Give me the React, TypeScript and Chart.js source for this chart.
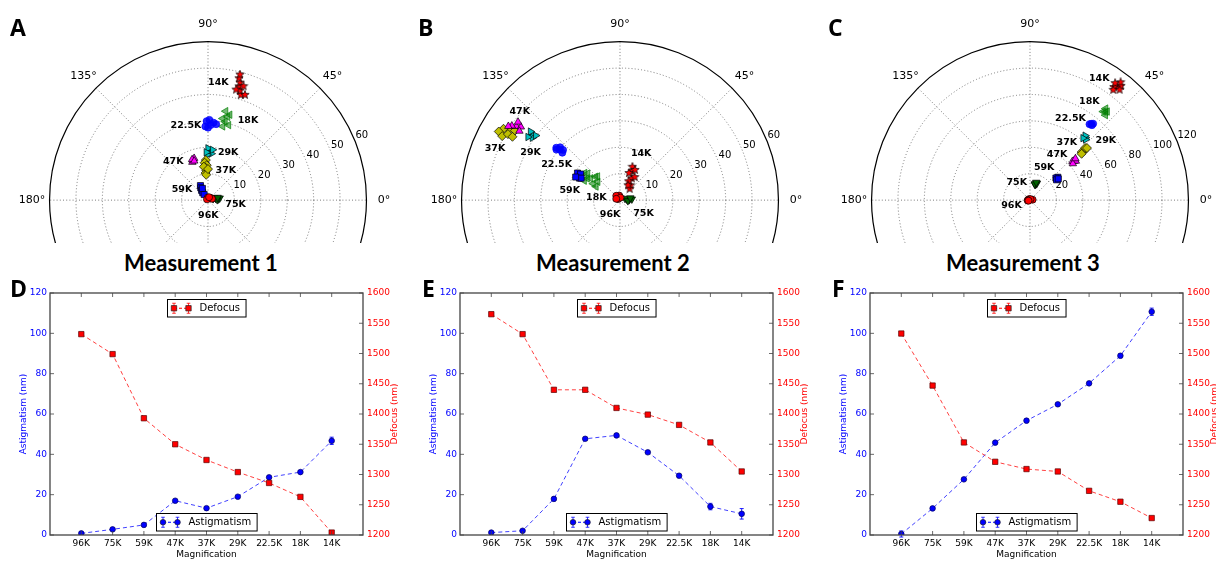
import React, { useEffect, useRef } from 'react';
import { Chart, registerables } from 'chart.js';

Chart.register(...registerables);

// ---------------- Categories ----------------
const MAGNIFICATIONS = ['96K', '75K', '59K', '47K', '37K', '29K', '22.5K', '18K', '14K'];

// ---------------- Line charts (D, E, F) ----------------
const astigmatism1 = [0.8, 2.8, 5.0, 17.0, 13.3, 19.0, 28.6, 31.2, 46.7];
const astigmatismErr1 = [0.4, 0.4, 0.4, 0.6, 0.7, 0.5, 0.6, 0.7, 1.8];
const defocus1 = [1532, 1499, 1393, 1350, 1324, 1304, 1286, 1263, 1204];
const defocusErr1 = [2, 2, 2, 2, 2, 2, 2, 2, 3];

const astigmatism2 = [1.2, 2.1, 17.9, 47.7, 49.4, 41.0, 29.4, 14.1, 10.5];
const astigmatismErr2 = [0.4, 0.5, 0.8, 0.6, 0.6, 0.6, 0.8, 1.6, 2.6];
const defocus2 = [1565, 1532, 1440, 1440, 1410, 1399, 1382, 1353, 1305];
const defocusErr2 = [2, 2, 2, 2, 2, 2, 2, 2, 2];

const astigmatism3 = [0.5, 13.2, 27.6, 45.8, 56.7, 64.8, 75.2, 88.9, 110.7];
const astigmatismErr3 = [1.5, 0.6, 0.6, 0.6, 0.8, 0.6, 0.7, 1.0, 1.8];
const defocus3 = [1533, 1447, 1353, 1321, 1309, 1305, 1273, 1255, 1228];
const defocusErr3 = [2, 2, 2, 2, 2, 2, 2, 2, 2];

const ASTIG_TICKS = { min: 0, max: 120, step: 20 };
const DEFOCUS_TICKS = { min: 1200, max: 1600, step: 50 };

// ---------------- Polar charts (A, B, C) : [radius (nm), angle (deg)] ----------------
const polarRTicks1 = [10, 20, 30, 40, 50, 60];
const polarRTicks2 = [10, 20, 30, 40, 50, 60];
const polarRTicks3 = [20, 40, 60, 80, 100, 120];
const POLAR_ANGLE_GRID = [0, 45, 90, 135, 180, 225, 270, 315];
const POLAR_ANGLE_LABELS = ['0°', '45°', '90°', '135°', '180°'];
const POLAR_ANGLE_LABEL_VALUES = [0, 45, 90, 135, 180];

const clusters1 = [
  [[0.8, 60], [1.4, 35], [1.0, 95], [1.6, 20], [0.5, 140], [1.2, 70]],
  [[3, 12], [4, 6], [2.5, 22], [4.5, 10], [3.5, 2], [2, 15], [3.8, 16]],
  [[6.3, 117], [5.5, 120], [4.5, 123], [3.5, 125], [2.6, 124], [5, 115]],
  [[16.4, 110], [17, 108], [15.8, 112], [16.8, 111], [16, 109]],
  [[15.5, 93], [14.5, 95], [13.5, 92], [12.5, 94], [11.5, 93], [10.5, 95], [9.8, 94], [13, 97], [12, 90]],
  [[19, 88], [18, 86], [20, 90], [17.5, 91], [19.5, 85], [18.5, 92]],
  [[29, 88], [30, 86], [28, 90], [31, 89], [29.5, 84], [28.5, 92], [30.5, 91]],
  [[31, 78], [33, 77], [35, 79], [30, 75], [32, 80], [29, 79], [34, 76]],
  [[42.5, 73], [44, 74], [45.5, 75], [47, 75], [48.5, 76], [50, 76], [46, 73], [44, 76], [43, 71]],
];
const clusters2 = [
  [[1.2, 120], [1.8, 100], [0.8, 150], [2.2, 130], [1, 80], [1.5, 160]],
  [[2.6, 8], [3.5, 2], [4.5, 5], [2, 18], [3, -5], [4, 12]],
  [[18.4, 149], [17.5, 151], [19.2, 147], [18, 146], [17, 150], [19, 152]],
  [[48.5, 144], [47, 143], [50, 145], [49, 142], [46.5, 145], [51, 146]],
  [[50, 147], [52, 148], [53, 150], [48, 146], [51, 151], [49.5, 149], [47.5, 149]],
  [[42, 143], [41, 144], [43, 142], [40.5, 142], [42.5, 145]],
  [[30, 139.5], [29, 138], [31, 141], [28.5, 140], [30.5, 138], [31.5, 140]],
  [[14, 143], [12, 148], [16, 140], [11, 140], [15, 146], [13, 136], [17, 142], [10.5, 150], [12.5, 133], [15.5, 151]],
  [[9.5, 62], [12, 68], [13.7, 70], [7, 55], [5.7, 50], [10.5, 58], [8, 66], [11, 72], [6.5, 62], [13, 64]],
];
const clusters3 = [
  [[1.5, 170], [1, 120], [2, 10], [0.8, 60], [1.8, 190], [1.2, 200]],
  [[13.3, 70], [12.5, 72], [14, 68], [13, 74], [14.5, 71]],
  [[26.7, 39], [27.5, 40], [26, 41], [25.5, 38], [27, 37.5]],
  [[45, 42], [44, 43], [46, 41], [43, 41], [47, 43]],
  [[56, 43], [54, 43.5], [58, 44], [53, 42.5], [59, 43]],
  [[64, 49], [63, 48], [65, 50], [62.5, 50]],
  [[75, 51.8], [74, 52.5], [76, 51], [74.5, 51]],
  [[89, 50], [88, 51], [90, 49.5], [87, 49], [91, 51]],
  [[110, 53], [108, 54], [112, 52], [106, 53.5], [114, 53], [111, 54.5], [109, 51.5]],
];

// label placement (pixel offsets from each cluster's centre)
const labelOffsets1 = [[-1, 17], [19, 6], [-20, 0], [-20, 1], [20, 3], [19, 1], [-24, 2], [22, 1], [-22, -4]];
const labelOffsets2 = [[-8, 17], [15, 14], [-9, 15], [4, -15], [-12, 16], [-1, 17], [-3, 15], [5, 19], [10, -24]];
const labelOffsets3 = [[-18, 6], [-19, -1], [-13, -11], [-17, -7], [-17, -8], [21, 3], [-21, -6], [-16, -10], [-18, -8]];

// marker styles per magnification
const MARKER_STYLES = ['circle', 'triangle', 'rect', 'triangle', 'rectRot', 'triangle', 'circle', 'triangle', 'star'];
const MARKER_ROTATIONS = [0, 180, 0, 0, 0, 90, 0, 270, 0];
const MARKER_RADII = [3.5, 4.3, 4.3, 4.3, 4.5, 4.3, 3.5, 4.3, 5];
const MARKER_FILLS = ['#ff0000', '#006400', '#0000ff', '#ff00ff', '#bfbf00', '#00bfbf', 'rgba(0,0,255,0.85)', 'rgba(0,128,0,0.55)', '#ff0000'];
const MARKER_EDGES = ['#000', '#000', '#000', '#000', '#000', '#000', '#0000ff', '#008000', '#000'];

const FONT = "'DejaVu Sans', sans-serif";

// layout constants
const POLAR_W = 410;
const POLAR_H = 243;
const POLAR_CX = 205;
const POLAR_CY = 204;
const POLAR_R = 163;
const POLAR_CENTERS = [208, 620, 1030];
const LINE_LEFTS = [0, 410, 820];
const LINE_TOP = 280;
const LINE_W = 405;
const LINE_H = 281;

function makeStar(size) {
  const c = document.createElement('canvas');
  c.width = size;
  c.height = size;
  const g = c.getContext('2d');
  const cx = size / 2, cy = size / 2, ro = size / 2 - 0.6, ri = ro * 0.42;
  g.beginPath();
  for (let i = 0; i < 10; i++) {
    const r = i % 2 === 0 ? ro : ri;
    const a = -Math.PI / 2 + (i * Math.PI) / 5;
    const px = cx + r * Math.cos(a), py = cy + r * Math.sin(a);
    if (i === 0) g.moveTo(px, py); else g.lineTo(px, py);
  }
  g.closePath();
  g.fillStyle = '#ff0000';
  g.fill();
  g.lineWidth = 0.7;
  g.strokeStyle = '#000';
  g.stroke();
  return c;
}

function makePolarPlugin(rTicks, labelOffsets) {
  return {
    id: 'polarFrame',
    beforeDatasetsDraw(chart) {
      const { ctx, scales } = chart;
      const xs = scales.x, ys = scales.y;
      const cx = xs.getPixelForValue(0), cy = ys.getPixelForValue(0);
      const rMax = rTicks[rTicks.length - 1];
      const R = xs.getPixelForValue(rMax) - cx;
      ctx.save();
      ctx.strokeStyle = '#6e6e6e';
      ctx.lineWidth = 0.9;
      ctx.setLineDash([1, 2.2]);
      rTicks.slice(0, -1).forEach((v) => {
        const rp = xs.getPixelForValue(v) - cx;
        ctx.beginPath();
        ctx.arc(cx, cy, rp, 0, Math.PI * 2);
        ctx.stroke();
      });
      POLAR_ANGLE_GRID.forEach((a) => {
        const rad = (a * Math.PI) / 180;
        ctx.beginPath();
        ctx.moveTo(cx, cy);
        ctx.lineTo(cx + R * Math.cos(rad), cy - R * Math.sin(rad));
        ctx.stroke();
      });
      ctx.setLineDash([]);
      ctx.strokeStyle = '#000';
      ctx.lineWidth = 1.2;
      ctx.beginPath();
      ctx.arc(cx, cy, R, 0, Math.PI * 2);
      ctx.stroke();

      ctx.fillStyle = '#000';
      ctx.font = `11px ${FONT}`;
      ctx.textAlign = 'center';
      ctx.textBaseline = 'middle';
      POLAR_ANGLE_LABELS.forEach((lab, i) => {
        const a = (POLAR_ANGLE_LABEL_VALUES[i] * Math.PI) / 180;
        ctx.fillText(lab, cx + R * 1.11 * Math.cos(a), cy - R * 1.11 * Math.sin(a));
      });
      ctx.font = `10px ${FONT}`;
      ctx.textAlign = 'left';
      ctx.textBaseline = 'bottom';
      const la = (22.5 * Math.PI) / 180;
      rTicks.forEach((v) => {
        const rp = xs.getPixelForValue(v) - cx;
        ctx.fillText(String(v), cx + rp * Math.cos(la) + 1, cy - rp * Math.sin(la) + 0.5);
      });
      ctx.restore();
    },
    afterDatasetsDraw(chart) {
      const { ctx } = chart;
      ctx.save();
      ctx.fillStyle = '#000';
      ctx.font = `bold 9.5px ${FONT}`;
      ctx.textAlign = 'center';
      ctx.textBaseline = 'middle';
      chart.data.datasets.forEach((ds, i) => {
        const meta = chart.getDatasetMeta(i);
        let sx = 0, sy = 0;
        meta.data.forEach((p) => { sx += p.x; sy += p.y; });
        sx /= meta.data.length;
        sy /= meta.data.length;
        const off = labelOffsets[i];
        ctx.fillText(ds.label, sx + off[0], sy + off[1]);
      });
      ctx.restore();
    },
  };
}

function buildPolarConfig(clusters, rTicks, labelOffsets) {
  const rMax = rTicks[rTicks.length - 1];
  const k = POLAR_R / rMax;
  const star = makeStar(10);
  const datasets = clusters.map((pts, i) => ({
    label: MAGNIFICATIONS[i],
    data: pts.map(([r, t]) => ({
      x: r * Math.cos((t * Math.PI) / 180),
      y: r * Math.sin((t * Math.PI) / 180),
    })),
    pointStyle: MARKER_STYLES[i] === 'star' ? star : MARKER_STYLES[i],
    pointRotation: MARKER_ROTATIONS[i],
    pointRadius: MARKER_RADII[i],
    pointBackgroundColor: MARKER_FILLS[i],
    pointBorderColor: MARKER_EDGES[i],
    pointBorderWidth: 0.7,
    showLine: false,
    clip: false,
  }));
  return {
    type: 'scatter',
    data: { datasets },
    options: {
      responsive: false,
      animation: false,
      devicePixelRatio: 1,
      events: [],
      layout: { padding: 0 },
      plugins: { legend: { display: false }, tooltip: { enabled: false }, title: { display: false } },
      scales: {
        x: { type: 'linear', display: false, min: -POLAR_CX / k, max: (POLAR_W - POLAR_CX) / k },
        y: { type: 'linear', display: false, min: -(POLAR_H - POLAR_CY) / k, max: POLAR_CY / k },
      },
    },
    plugins: [makePolarPlugin(rTicks, labelOffsets)],
  };
}

function drawLegendBox(ctx, midX, top, text, color, marker) {
  ctx.save();
  ctx.font = `10px ${FONT}`;
  const tw = ctx.measureText(text).width;
  const w = 32 + tw + 6, h = 17.5;
  const x0 = Math.round(midX - w / 2) + 0.5;
  const y0 = Math.round(top) + 0.5;
  ctx.fillStyle = '#fff';
  ctx.fillRect(x0, y0, w, h);
  ctx.strokeStyle = '#000';
  ctx.lineWidth = 1;
  ctx.strokeRect(x0, y0, w, h);
  const ym = y0 + h / 2;
  const m1 = x0 + 6.5, m2 = x0 + 21;
  ctx.strokeStyle = color;
  ctx.setLineDash([3, 2]);
  ctx.beginPath();
  ctx.moveTo(m1, ym);
  ctx.lineTo(m2, ym);
  ctx.stroke();
  ctx.setLineDash([]);
  [m1, m2].forEach((mx) => {
    ctx.strokeStyle = color;
    ctx.lineWidth = 0.8;
    ctx.beginPath();
    ctx.moveTo(mx, ym - 5); ctx.lineTo(mx, ym + 5);
    ctx.moveTo(mx - 1.8, ym - 5); ctx.lineTo(mx + 1.8, ym - 5);
    ctx.moveTo(mx - 1.8, ym + 5); ctx.lineTo(mx + 1.8, ym + 5);
    ctx.stroke();
    ctx.fillStyle = color;
    ctx.strokeStyle = '#222';
    ctx.lineWidth = 0.7;
    ctx.beginPath();
    if (marker === 'rect') ctx.rect(mx - 2.7, ym - 2.7, 5.4, 5.4);
    else ctx.arc(mx, ym, 2.8, 0, Math.PI * 2);
    ctx.fill();
    ctx.stroke();
  });
  ctx.fillStyle = '#000';
  ctx.textAlign = 'left';
  ctx.textBaseline = 'middle';
  ctx.fillText(text, x0 + 32, ym + 0.5);
  ctx.restore();
}

const AXIS_FONT_SIZE = 9;

const linePanelPlugin = {
  id: 'linePanel',
  beforeDatasetsDraw(chart) {
    const { ctx } = chart;
    chart.data.datasets.forEach((ds, di) => {
      const meta = chart.getDatasetMeta(di);
      const scale = chart.scales[ds.yAxisID];
      ctx.save();
      ctx.strokeStyle = ds.pointBackgroundColor;
      ctx.lineWidth = 0.9;
      meta.data.forEach((pt, i) => {
        const v = ds.data[i].y, e = ds.errors[i];
        const yt = scale.getPixelForValue(v + e), yb = scale.getPixelForValue(v - e);
        ctx.beginPath();
        ctx.moveTo(pt.x, yt); ctx.lineTo(pt.x, yb);
        ctx.moveTo(pt.x - 2, yt); ctx.lineTo(pt.x + 2, yt);
        ctx.moveTo(pt.x - 2, yb); ctx.lineTo(pt.x + 2, yb);
        ctx.stroke();
      });
      ctx.restore();
    });
  },
  afterDraw(chart) {
    const { ctx, chartArea: a, scales } = chart;
    ctx.save();
    ctx.strokeStyle = '#444';
    ctx.lineWidth = 1.3;
    ctx.strokeRect(a.left, a.top, a.right - a.left, a.bottom - a.top);
    ctx.lineWidth = 0.8;
    ctx.beginPath();
    scales.x.ticks.forEach((t) => {
      if (t.value < 0 || t.value > MAGNIFICATIONS.length - 1) return;
      const px = scales.x.getPixelForValue(t.value);
      ctx.moveTo(px, a.bottom); ctx.lineTo(px, a.bottom - 4);
      ctx.moveTo(px, a.top); ctx.lineTo(px, a.top + 4);
    });
    scales.y.ticks.forEach((t) => {
      const py = scales.y.getPixelForValue(t.value);
      ctx.moveTo(a.left, py); ctx.lineTo(a.left + 4, py);
    });
    scales.y1.ticks.forEach((t) => {
      const py = scales.y1.getPixelForValue(t.value);
      ctx.moveTo(a.right, py); ctx.lineTo(a.right - 4, py);
    });
    ctx.stroke();

    // right axis title, read bottom-to-top like the left one
    ctx.translate(scales.y1.right - 10, (a.top + a.bottom) / 2);
    ctx.rotate(-Math.PI / 2);
    ctx.fillStyle = '#ff0000';
    ctx.font = `${AXIS_FONT_SIZE}px ${FONT}`;
    ctx.textAlign = 'center';
    ctx.textBaseline = 'middle';
    ctx.fillText('Defocus (nm)', 0, 0);
    ctx.restore();

    const mid = (a.left + a.right) / 2;
    drawLegendBox(ctx, mid, a.top + 5.5, 'Defocus', '#ff0000', 'rect');
    drawLegendBox(ctx, mid, a.bottom - 5 - 17.5, 'Astigmatism', '#0000ff', 'circle');
  },
};

function buildLineConfig(astig, astigErr, defocus, defocusErr) {
  const font = { family: FONT, size: AXIS_FONT_SIZE };
  return {
    type: 'line',
    data: {
      datasets: [
        {
          label: 'Defocus',
          yAxisID: 'y1',
          data: defocus.map((v, i) => ({ x: i, y: v })),
          errors: defocusErr,
          borderColor: 'rgba(255,0,0,0.75)',
          borderDash: [4, 3],
          borderWidth: 1,
          pointStyle: 'rect',
          pointRadius: 3.8,
          pointBackgroundColor: '#ff0000',
          pointBorderColor: '#5a0000',
          pointBorderWidth: 0.7,
          fill: false,
          tension: 0,
        },
        {
          label: 'Astigmatism',
          yAxisID: 'y',
          data: astig.map((v, i) => ({ x: i, y: v })),
          errors: astigErr,
          borderColor: 'rgba(0,0,255,0.75)',
          borderDash: [4, 3],
          borderWidth: 1,
          pointStyle: 'circle',
          pointRadius: 2.8,
          pointBackgroundColor: '#0000ff',
          pointBorderColor: '#00005a',
          pointBorderWidth: 0.7,
          fill: false,
          tension: 0,
        },
      ],
    },
    options: {
      responsive: false,
      animation: false,
      devicePixelRatio: 1,
      events: [],
      layout: { padding: { top: 13, left: 0, right: 0, bottom: 0 } },
      plugins: { legend: { display: false }, tooltip: { enabled: false }, title: { display: false } },
      scales: {
        x: {
          type: 'linear',
          position: 'bottom',
          min: -1,
          max: MAGNIFICATIONS.length,
          afterFit: (s) => { s.height = 26; },
          grid: { display: false, drawTicks: false },
          border: { display: false },
          ticks: {
            stepSize: 1,
            autoSkip: false,
            maxRotation: 0,
            padding: 3,
            color: '#000',
            font,
            callback: (v) => MAGNIFICATIONS[v] ?? '',
          },
          title: { display: true, text: 'Magnification', color: '#000', font, padding: { top: 0, bottom: 1 } },
        },
        y: {
          position: 'left',
          min: ASTIG_TICKS.min,
          max: ASTIG_TICKS.max,
          afterFit: (s) => { s.width = 50; },
          grid: { display: false, drawTicks: false },
          border: { display: false },
          ticks: { stepSize: ASTIG_TICKS.step, color: '#0000ff', padding: 3, font, callback: (v) => String(v) },
          title: { display: true, text: 'Astigmatism (nm)', color: '#0000ff', font, padding: { top: 18, bottom: 0 } },
        },
        y1: {
          position: 'right',
          min: DEFOCUS_TICKS.min,
          max: DEFOCUS_TICKS.max,
          afterFit: (s) => { s.width = 42; },
          grid: { display: false, drawTicks: false },
          border: { display: false },
          ticks: { stepSize: DEFOCUS_TICKS.step, color: '#ff0000', padding: 4, font, callback: (v) => String(v) },
          title: { display: false },
        },
      },
    },
    plugins: [linePanelPlugin],
  };
}

function ChartCanvas({ makeConfig, left, top, width, height }) {
  const ref = useRef(null);
  useEffect(() => {
    const chart = new Chart(ref.current, makeConfig());
    return () => chart.destroy();
  }, []);
  return (
    <canvas
      ref={ref}
      width={width}
      height={height}
      style={{ position: 'absolute', left, top, width, height }}
    />
  );
}

const POLAR_PANELS = [
  { clusters: clusters1, ticks: polarRTicks1, offsets: labelOffsets1, title: 'Measurement 1', letter: 'A' },
  { clusters: clusters2, ticks: polarRTicks2, offsets: labelOffsets2, title: 'Measurement 2', letter: 'B' },
  { clusters: clusters3, ticks: polarRTicks3, offsets: labelOffsets3, title: 'Measurement 3', letter: 'C' },
];
const LINE_PANELS = [
  { a: astigmatism1, ae: astigmatismErr1, d: defocus1, de: defocusErr1, letter: 'D' },
  { a: astigmatism2, ae: astigmatismErr2, d: defocus2, de: defocusErr2, letter: 'E' },
  { a: astigmatism3, ae: astigmatismErr3, d: defocus3, de: defocusErr3, letter: 'F' },
];
const LETTER_LEFTS_TOP = [10, 418, 828];
const LETTER_LEFTS_BOTTOM = [10, 422, 832];

const letterStyle = (left, top) => ({
  position: 'absolute',
  left,
  top,
  fontFamily: "'Open Sans', sans-serif",
  fontWeight: 700,
  fontSize: 23,
  lineHeight: '23px',
  color: '#000',
  zIndex: 2,
});

export default function App() {
  return (
    <div style={{ position: 'fixed', left: 0, top: 0, width: 1216, height: 561, overflow: 'hidden', background: '#fff' }}>
      {POLAR_PANELS.map((p, i) => (
        <ChartCanvas
          key={'p' + i}
          makeConfig={() => buildPolarConfig(p.clusters, p.ticks, p.offsets)}
          left={POLAR_CENTERS[i] - POLAR_CX}
          top={0}
          width={POLAR_W}
          height={POLAR_H}
        />
      ))}
      {LINE_PANELS.map((p, i) => (
        <ChartCanvas
          key={'l' + i}
          makeConfig={() => buildLineConfig(p.a, p.ae, p.d, p.de)}
          left={LINE_LEFTS[i]}
          top={LINE_TOP}
          width={LINE_W}
          height={LINE_H}
        />
      ))}
      {POLAR_PANELS.map((p, i) => (
        <div
          key={'t' + i}
          style={{
            position: 'absolute',
            left: POLAR_CENTERS[i] - 7 - 150,
            width: 300,
            top: 252,
            textAlign: 'center',
            fontFamily: "'Lato', sans-serif",
            fontWeight: 700,
            fontSize: 22,
            lineHeight: '22px',
            color: '#000',
          }}
        >
          {p.title}
        </div>
      ))}
      {POLAR_PANELS.map((p, i) => (
        <div key={'lt' + i} style={letterStyle(LETTER_LEFTS_TOP[i], 15.5)}>{p.letter}</div>
      ))}
      {LINE_PANELS.map((p, i) => (
        <div key={'lb' + i} style={letterStyle(LETTER_LEFTS_BOTTOM[i], 276.5)}>{p.letter}</div>
      ))}
    </div>
  );
}
